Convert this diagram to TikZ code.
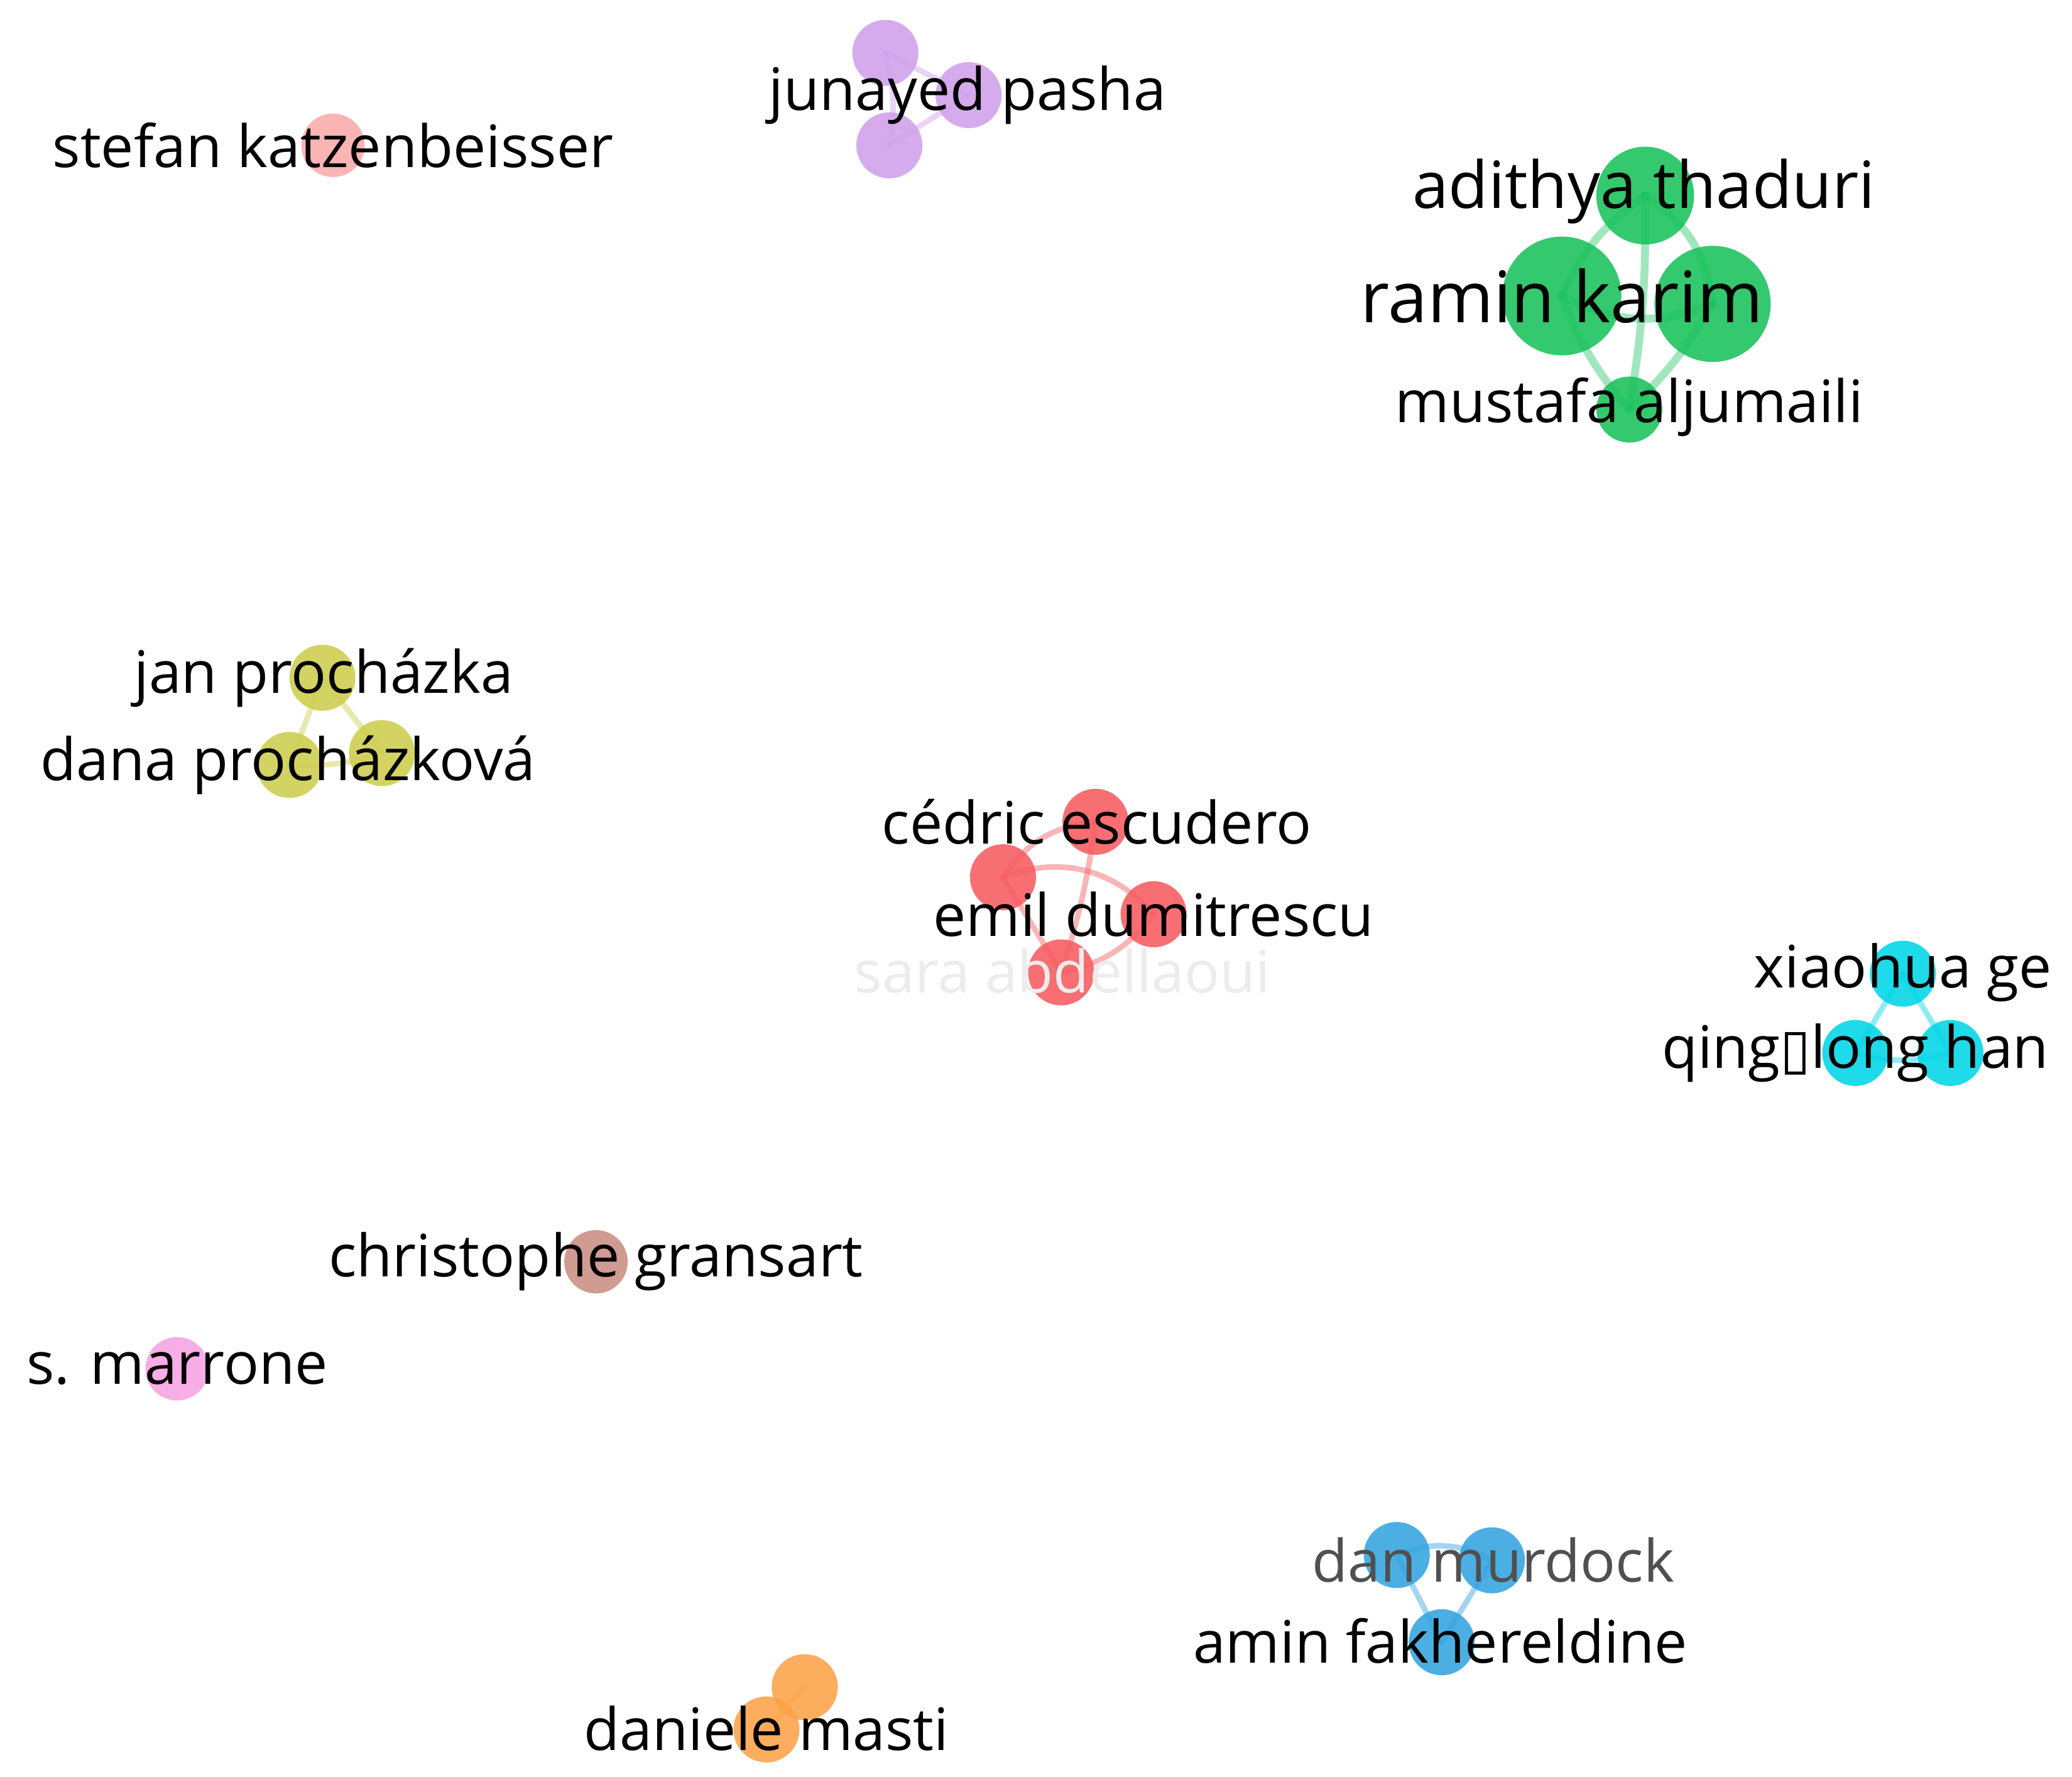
\documentclass[tikz,border=0pt]{standalone}
\usepackage{fontspec}
\setmainfont{Open Sans}
\newfontfamily\dejavu{DejaVu Sans}
\definecolor{cpurple}{RGB}{208,160,236}
\definecolor{cgreen}{RGB}{24,194,92}
\definecolor{csalmon}{RGB}{250,170,170}
\definecolor{cyellow}{RGB}{206,206,78}
\definecolor{cred}{RGB}{246,92,96}
\definecolor{ccyan}{RGB}{0,214,230}
\definecolor{cbrown}{RGB}{202,142,132}
\definecolor{cmagenta}{RGB}{246,162,226}
\definecolor{cblue}{RGB}{52,164,224}
\definecolor{corange}{RGB}{252,162,72}
\begin{document}
\begin{tikzpicture}[x=0.02cm,y=-0.02cm,
  nd/.style={circle,inner sep=0pt,minimum size=#1*0.04cm,fill opacity=0.88,draw=none},
  lbl/.style={inner sep=0pt,text=black,font=\fontsize{25.2}{25.2}\selectfont},
  lblbig/.style={inner sep=0pt,text=black,font=\fontsize{30.6}{30.6}\selectfont},
  lblmid/.style={inner sep=0pt,text=black,font=\fontsize{28}{28}\selectfont},
  lk/.style={line width=2.4pt,draw opacity=0.45,line cap=round},
  lkg/.style={line width=3.4pt,draw opacity=0.4,line cap=round}]
\useasboundingbox[fill=white] (0,0) rectangle (1568,1345);
% ---------- centres ----------
\coordinate (p1c) at (670,40);
\coordinate (p2c) at (733,72);
\coordinate (p3c) at (673,110);
\coordinate (g1c) at (1245,148);
\coordinate (g2c) at (1182,224);
\coordinate (g3c) at (1296,230);
\coordinate (g4c) at (1233,310);
\coordinate (y1c) at (244,513);
\coordinate (y2c) at (219,579);
\coordinate (y3c) at (289,570);
\coordinate (r1c) at (829,622);
\coordinate (r2c) at (759,664);
\coordinate (r3c) at (873,692);
\coordinate (r4c) at (803,736);
\coordinate (c1c) at (1440,737);
\coordinate (c2c) at (1404,797);
\coordinate (c3c) at (1476,797);
\coordinate (b1c) at (1057,1177);
\coordinate (b2c) at (1129,1181);
\coordinate (b3c) at (1091,1243);
\coordinate (o1c) at (609,1277);
\coordinate (o2c) at (580,1309);
\coordinate (skc) at (252,110);
\coordinate (cgc) at (451,955);
\coordinate (smc) at (134,1036);
% ---------- edges ----------
% purple
\draw[lk,cpurple] (p1c) -- (p2c);
\draw[lk,cpurple] (p2c) -- (p3c);
\draw[lk,cpurple] (p1c) to[bend left=12] (p3c);
% green
\draw[lkg,cgreen] (g1c) to[bend right=15] (g2c);
\draw[lkg,cgreen] (g1c) to[bend left=25] (g3c);
\draw[lkg,cgreen] (g2c) to[bend right=25] (g3c);
\draw[lkg,cgreen] (g2c) to[bend right=10] (g4c);
\draw[lkg,cgreen] (g3c) to[bend left=8] (g4c);
\draw[lkg,cgreen] (g1c) to[bend left=5] (g4c);
% yellow
\draw[lk,cyellow] (y1c) -- (y2c);
\draw[lk,cyellow] (y1c) -- (y3c);
\draw[lk,cyellow] (y2c) to[bend right=10] (y3c);
% red
\draw[lk,cred] (r1c) to[bend right=25] (r2c);
\draw[lk,cred] (r2c) to[bend left=35] (r3c);
\draw[lk,cred] (r1c) to[bend left=5] (r4c);
\draw[lk,cred] (r2c) -- (r4c);
\draw[lk,cred] (r3c) to[bend left=20] (r4c);
% cyan
\draw[lk,ccyan] (c1c) -- (c2c);
\draw[lk,ccyan] (c1c) -- (c3c);
\draw[lk,ccyan] (c2c) to[bend right=15] (c3c);
% blue
\draw[lk,cblue] (b1c) to[bend left=25] (b2c);
\draw[lk,cblue] (b1c) -- (b3c);
\draw[lk,cblue] (b2c) -- (b3c);
% orange
\draw[lk,corange] (o1c) -- (o2c);
% ---------- nodes ----------
\node[nd=25,fill=cpurple] (p1) at (p1c) {};
\node[nd=25,fill=cpurple] (p3) at (p3c) {};
\node[nd=25,fill=cpurple] (p2) at (p2c) {};
\node[nd=24,fill=csalmon] (sk) at (skc) {};
\node[nd=37,fill=cgreen] (g1) at (g1c) {};
\node[nd=45,fill=cgreen] (g2) at (g2c) {};
\node[nd=44,fill=cgreen] (g3) at (g3c) {};
\node[nd=25,fill=cgreen] (g4) at (g4c) {};
\node[nd=25,fill=cyellow] (y1) at (y1c) {};
\node[nd=25,fill=cyellow] (y3) at (y3c) {};
\node[nd=25,fill=cyellow] (y2) at (y2c) {};
\node[nd=25,fill=cred] (r1) at (r1c) {};
\node[nd=25,fill=cred] (r2) at (r2c) {};
\node[nd=25,fill=cred] (r3) at (r3c) {};
\node[nd=25,fill=cred] (r4) at (r4c) {};
\node[nd=25,fill=ccyan] (c1) at (c1c) {};
\node[nd=25,fill=ccyan] (c2) at (c2c) {};
\node[nd=25,fill=ccyan] (c3) at (c3c) {};
\node[nd=24,fill=cbrown] (cg) at (cgc) {};
\node[nd=24,fill=cmagenta] (sm) at (smc) {};
\node[nd=25,fill=cblue] (b1) at (b1c) {};
\node[nd=25,fill=cblue] (b2) at (b2c) {};
\node[nd=25,fill=cblue] (b3) at (b3c) {};
\node[nd=25,fill=corange] (o1) at (o1c) {};
\node[nd=25,fill=corange] (o2) at (o2c) {};
% ---------- labels ----------
\node[lbl] (lp2) at (732,72) {junayed pasha};
\node[lbl] (lsk) at (252,110) {stefan katzenbeisser};
\node[lblmid] (lg1) at (1244,145) {adithya thaduri};
\node[lblbig] (lg2) at (1182,224) {ramin karim};
\node[lbl] (lg4) at (1233,308) {mustafa aljumaili};
\node[lbl] (ly1) at (245,513) {jan procházka};
\node[lbl] (ly2) at (218,579) {dana procházková};
\node[lbl] (lr1) at (830,622) {cédric escudero};
\node[lbl] (lr3) at (873,692) {emil dumitrescu};
\node[lbl,text={rgb,255:red,236;green,236;blue,236}] (lr4) at (804,735) {sara abdellaoui};
\node[lbl] (lc1) at (1440,736) {xiaohua ge};
\node[lbl] (lc2) at (1404,797) {qing{\dejavu\fontsize{24}{24}\selectfont ▯}long han};
\node[lbl] (lcg) at (451,955) {christophe gransart};
\node[lbl] (lsm) at (134,1036) {s. marrone};
\node[lbl,text={rgb,255:red,80;green,80;blue,80}] (lb2) at (1130,1181) {dan murdock};
\node[lbl] (lb3) at (1090,1242) {amin fakhereldine};
\node[lbl] (lo2) at (580,1308) {daniele masti};
\end{tikzpicture}
\end{document}
